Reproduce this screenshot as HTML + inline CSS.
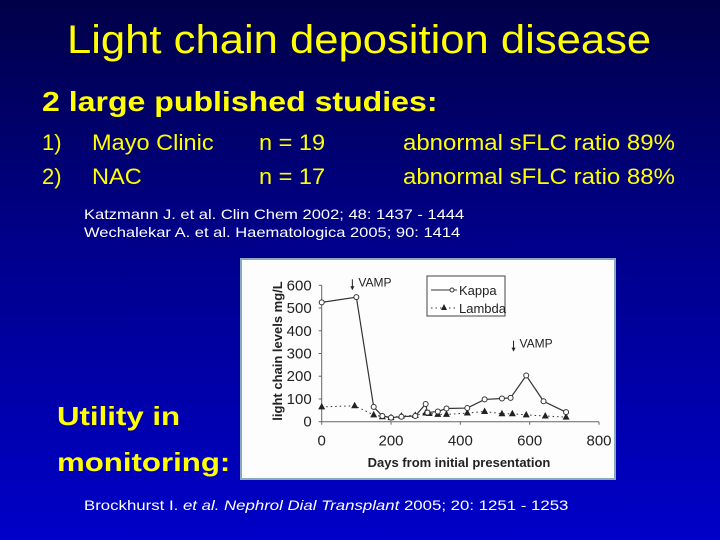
<!DOCTYPE html>
<html><head><meta charset="utf-8"><style>
body{margin:0;width:720px;height:540px;overflow:hidden;font-family:"Liberation Sans",sans-serif;background:linear-gradient(#000048 0%,#00008a 45%,#0000c8 100%);position:relative}
.t{position:absolute;white-space:nowrap;transform-origin:0 0}
.y{color:#ffff00}
</style></head><body>
<div class="t y" style="left:67px;top:18px;font-size:40px;transform:scaleX(1.09)">Light chain deposition disease</div>
<div class="t y" style="left:42px;top:86px;font-size:28px;font-weight:bold;transform:scaleX(1.145)">2 large published studies:</div>
<div class="t y" style="left:42px;top:130px;font-size:22px"><span style="position:absolute">1)</span><span style="position:absolute;left:50px;transform:scaleX(1.07);transform-origin:0 0">Mayo Clinic</span><span style="position:absolute;left:217px;transform:scaleX(1.07);transform-origin:0 0">n = 19</span><span style="position:absolute;left:361px;transform:scaleX(1.09);transform-origin:0 0">abnormal sFLC ratio 89%</span></div>
<div class="t y" style="left:42px;top:164px;font-size:22px"><span style="position:absolute">2)</span><span style="position:absolute;left:50px;transform:scaleX(1.07);transform-origin:0 0">NAC</span><span style="position:absolute;left:217px;transform:scaleX(1.07);transform-origin:0 0">n = 17</span><span style="position:absolute;left:361px;transform:scaleX(1.09);transform-origin:0 0">abnormal sFLC ratio 88%</span></div>
<div class="t" style="left:84px;top:206px;font-size:14px;color:#fff;transform:scaleX(1.18)">Katzmann J. et al. Clin Chem 2002; 48: 1437 - 1444</div>
<div class="t" style="left:84px;top:224px;font-size:14px;color:#fff;transform:scaleX(1.18)">Wechalekar A. et al. Haematologica 2005; 90: 1414</div>
<div class="t y" style="left:57px;top:393px;font-size:26px;font-weight:bold;line-height:46px;transform:scaleX(1.2)">Utility in<br>monitoring:</div>
<div class="t" style="left:84px;top:497px;font-size:14px;color:#fff;transform:scaleX(1.2)">Brockhurst I. <i>et al. Nephrol Dial Transplant</i> 2005; 20: 1251 - 1253</div>
<svg id="chart" style="position:absolute;left:240px;top:258px" width="376" height="222" font-family="Liberation Sans, sans-serif"></svg>
<script>
const xTicks=[0,200,400,600,800];
const yTicks=[0,100,200,300,400,500,600];
const kappaDays=[0,100,150,175,200,230,270,300,305,335,360,420,470,520,545,590,640,705];
const kappaVals=[525,548,65,25,18,22,25,78,40,45,58,60,98,102,105,203,90,42];
const lambdaDays=[0,95,150,175,200,230,270,300,310,335,360,420,470,520,550,590,645,705];
const lambdaVals=[65,70,30,22,18,25,28,38,36,32,32,38,45,35,35,30,25,20];
const svg=document.getElementById('chart');const NS='http://www.w3.org/2000/svg';
const X=v=>81.7+v*(359-81.7)/800;const Y=v=>163.7-v*(163.7-27.3)/600;
function mk(t,a,p){const e=document.createElementNS(NS,t);for(const k in a)e.setAttribute(k,a[k]);(p||svg).appendChild(e);return e;}
const bg=mk('rect',{x:1,y:1,width:374,height:220,fill:'#fdfdfd',stroke:'#8ab',"stroke-width":2});


const ax=mk('path',{d:`M${X(0)},${Y(600)}V${Y(0)}H${X(800)}`,stroke:'#666',fill:'none'});


yTicks.forEach(v=>{const t=mk('text',{x:X(0)-10,y:Y(v)+5,"font-size":15,"text-anchor":"end",fill:'#222'});t.textContent=v;


mk('line',{x1:X(0)-3,x2:X(0),y1:Y(v),y2:Y(v),stroke:'#666'});});
xTicks.forEach(v=>{const t=mk('text',{x:X(v),y:Y(0)+24,"font-size":15,"text-anchor":"middle",fill:'#222'});t.textContent=v;


mk('line',{x1:X(v),x2:X(v),y1:Y(0),y2:Y(0)+3,stroke:'#666'});});
const xt=mk('text',{x:219,y:209,"font-size":13,"font-weight":"bold","text-anchor":"middle",fill:'#222'});xt.textContent='Days from initial presentation';


const yt=mk('text',{x:0,y:0,"font-size":13,"font-weight":"bold","text-anchor":"middle",fill:'#222',transform:`translate(42,93) rotate(-90)`});yt.textContent='light chain levels mg/L';


const kl=mk('polyline',{points:kappaDays.map((d,i)=>X(d)+','+Y(kappaVals[i])).join(' '),fill:'none',stroke:'#333',"stroke-width":1.2});


const ll=mk('polyline',{points:lambdaDays.map((d,i)=>X(d)+','+Y(lambdaVals[i])).join(' '),fill:'none',stroke:'#333',"stroke-dasharray":"1.5,3"});


lambdaDays.forEach((d,i)=>{const x=X(d),y=Y(lambdaVals[i]);const p=mk('path',{d:`M${x},${y-4}L${x+3.5},${y+2.5}L${x-3.5},${y+2.5}Z`,fill:'#222'});

});
kappaDays.forEach((d,i)=>{const c=mk('circle',{cx:X(d),cy:Y(kappaVals[i]),r:2.5,fill:'#fff',stroke:'#333'});

});
[[100,600],[565,330]].forEach(([d,v])=>{const x=X(d)-4,y=Y(v);mk('line',{x1:x,x2:x,y1:y-6,y2:y+4,stroke:'#222'});mk('path',{d:`M${x-2},${y+1}L${x},${y+5}L${x+2},${y+1}Z`,fill:'#222'});
const t=mk('text',{x:x+6,y:y+1,"font-size":12,fill:'#222'});t.textContent='VAMP';

});
const lg=mk('rect',{x:187,y:18,width:78,height:40,fill:'#fff',stroke:'#444'});


mk('line',{x1:191,x2:217,y1:32,y2:32,stroke:'#333'});mk('circle',{cx:212,cy:32,r:2,fill:'#fff',stroke:'#333'});
mk('line',{x1:191,x2:217,y1:50,y2:50,stroke:'#333',"stroke-dasharray":"1.5,3"});mk('path',{d:'M204,46L207,52L201,52Z',fill:'#222'});
const k1=mk('text',{x:219,y:37,"font-size":13,fill:'#222'});k1.textContent='Kappa';


const k2=mk('text',{x:219,y:55,"font-size":13,fill:'#222'});k2.textContent='Lambda';


</script>
</body></html>
